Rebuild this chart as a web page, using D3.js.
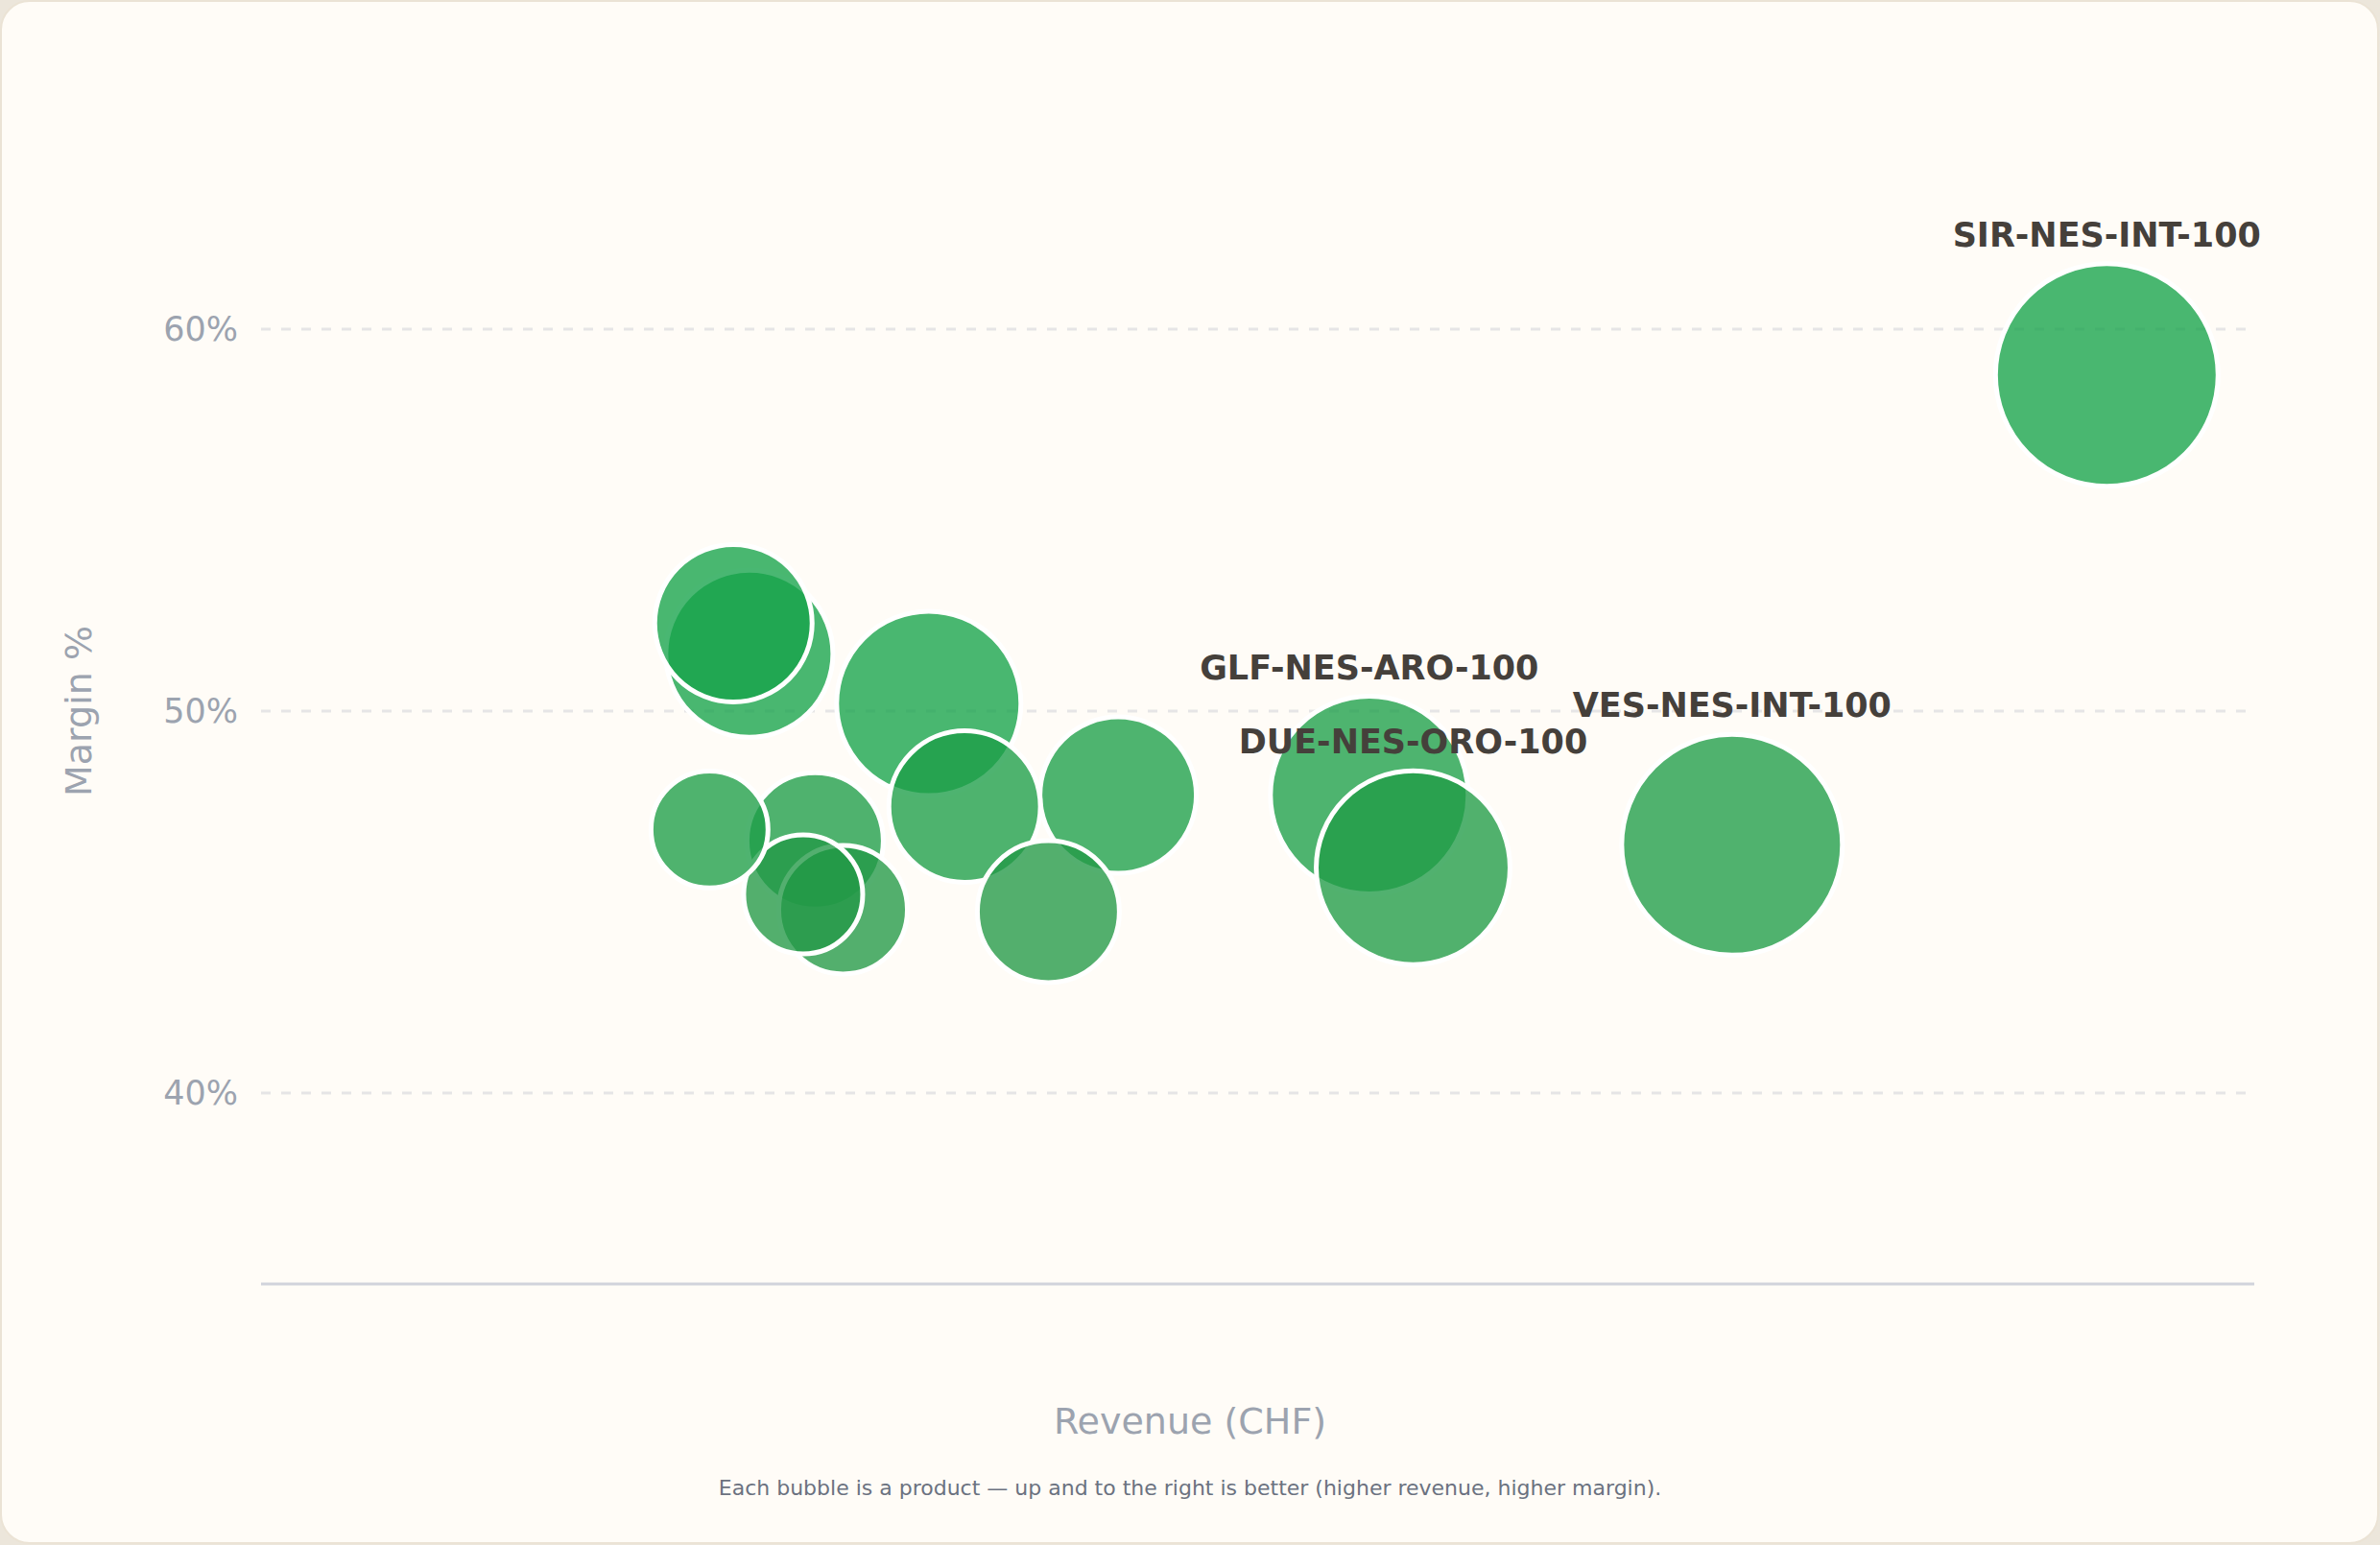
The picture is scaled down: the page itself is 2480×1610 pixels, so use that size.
<!DOCTYPE html>
<html>
<head>
<meta charset="utf-8">
<script src="https://cdn.jsdelivr.net/npm/d3@7"></script>
<style>
  html, body { margin: 0; padding: 0; background: #ece6db; }
  svg { display: block; font-family: "DejaVu Sans", sans-serif; }
</style>
</head>
<body>
<svg width="2480" height="1610"></svg>
<script>
// product data
const products = ['SIR-NES-INT-100', 'VES-NES-INT-100', 'GLF-NES-ARO-100', 'DUE-NES-ORO-100',
                  'P-05', 'P-06', 'P-07', 'P-08', 'P-09', 'P-10', 'P-11', 'P-12', 'P-13', 'P-14']
const revenue = [46300, 36900, 27800, 28900, 16750, 17650, 21500, 19750, 14600, 13900, 13600, 12250, 11850, 11250]
const margin = [58.8, 46.5, 47.8, 45.9, 50.2, 47.5, 47.8, 44.75, 44.8, 46.6, 45.2, 51.5, 52.3, 46.9]
const volume = [934, 918, 737, 708, 640, 433, 461, 380, 312, 350, 267, 526, 467, 258]
const yTicks = [40, 50, 60]

const data = products.map((name, i) => ({
  name: name,
  revenue: revenue[i],
  margin: margin[i],
  volume: volume[i]
}))

const svg = d3.select('svg')
const W = +svg.attr('width')
const H = +svg.attr('height')
const margins = { top: 144, right: 131, bottom: 272, left: 272 }
const plotW = W - margins.left - margins.right
const plotH = H - margins.top - margins.bottom

// card background
svg.append('rect')
   .attr('x', 1).attr('y', 1)
   .attr('width', W - 3).attr('height', H - 3)
   .attr('rx', 30)
   .attr('fill', '#fffcf7')
   .attr('stroke', '#ebe3d5')
   .attr('stroke-width', 2)

const x = d3.scaleLinear()
            .domain([0, 50000])
            .range([margins.left, margins.left + plotW])

const y = d3.scaleLinear()
            .domain([35, 65])
            .range([margins.top + plotH, margins.top])

const r = d3.scaleSqrt()
            .domain([0, 1000])
            .range([0, 120])

const color = d3.scaleLinear()
                .domain([44, 50])
                .range(['#259746', '#16a34a'])
                .clamp(true)

// gridlines
svg.append('g')
   .selectAll('line')
   .data(yTicks)
   .enter().append('line')
   .attr('x1', margins.left)
   .attr('x2', margins.left + plotW)
   .attr('y1', d => y(d))
   .attr('y2', d => y(d))
   .attr('stroke', '#e6e5e6')
   .attr('stroke-width', 3)
   .attr('stroke-dasharray', '10 11')

// y axis tick labels
svg.append('g')
   .selectAll('text')
   .data(yTicks)
   .enter().append('text')
   .attr('x', margins.left - 24)
   .attr('y', d => y(d))
   .attr('dy', '0.35em')
   .attr('text-anchor', 'end')
   .attr('fill', '#9ca3af')
   .attr('font-size', 35)
   .text(d => d + '%')

// x axis baseline
svg.append('line')
   .attr('x1', margins.left)
   .attr('x2', margins.left + plotW)
   .attr('y1', margins.top + plotH)
   .attr('y2', margins.top + plotH)
   .attr('stroke', '#d1d3db')
   .attr('stroke-width', 3)

// bubbles, biggest first so small ones sit on top
const sorted = data.slice().sort((a, b) => b.volume - a.volume)

svg.append('g')
   .selectAll('circle')
   .data(sorted)
   .enter().append('circle')
   .attr('cx', d => x(d.revenue))
   .attr('cy', d => y(d.margin))
   .attr('r', d => r(d.volume))
   .attr('fill', d => color(d.margin))
   .attr('fill-opacity', 0.78)
   .attr('stroke', '#ffffff')
   .attr('stroke-width', 5)

// label the top 4 by revenue
const top4 = data.slice().sort((a, b) => b.revenue - a.revenue).slice(0, 4)

svg.append('g')
   .selectAll('text')
   .data(top4)
   .enter().append('text')
   .attr('x', d => x(d.revenue))
   .attr('y', d => y(d.margin) - r(d.volume) - 18)
   .attr('text-anchor', 'middle')
   .attr('font-size', 35)
   .attr('font-weight', 'bold')
   .attr('fill', '#45403b')
   .text(d => d.name)

// axis titles
svg.append('text')
   .attr('x', W / 2)
   .attr('y', 1494)
   .attr('text-anchor', 'middle')
   .attr('fill', '#9ca3af')
   .attr('font-size', 38)
   .text('Revenue (CHF)')

svg.append('text')
   .attr('transform', `translate(82, ${margins.top + plotH / 2}) rotate(-90)`)
   .attr('dy', '0.35em')
   .attr('text-anchor', 'middle')
   .attr('fill', '#9ca3af')
   .attr('font-size', 38)
   .text('Margin %')

svg.append('text')
   .attr('x', W / 2)
   .attr('y', 1558)
   .attr('text-anchor', 'middle')
   .attr('fill', '#6b7280')
   .attr('font-size', 22)
   .text('Each bubble is a product — up and to the right is better (higher revenue, higher margin).')
</script>
</body>
</html>
